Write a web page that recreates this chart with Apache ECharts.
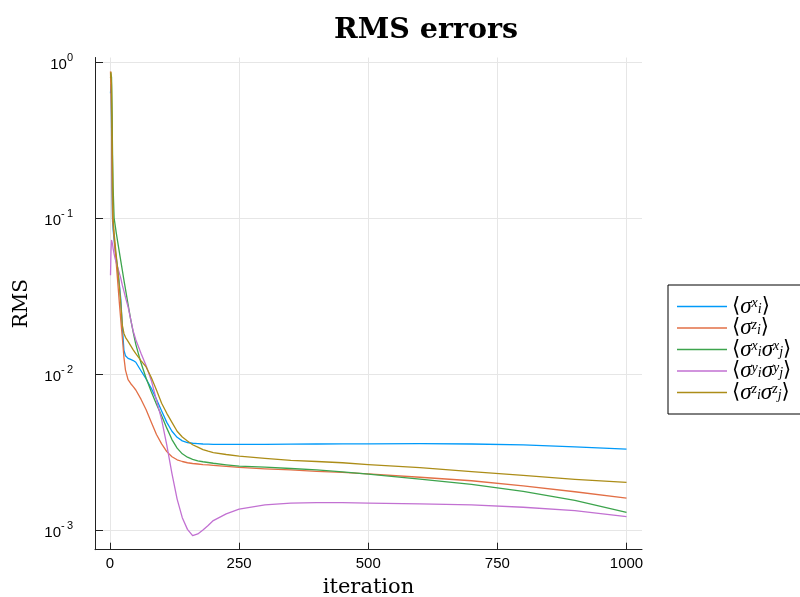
<!DOCTYPE html>
<html>
<head>
<meta charset="utf-8">
<script src="https://cdn.jsdelivr.net/npm/echarts@6/dist/echarts.min.js"></script>
<style>
  html, body { margin: 0; padding: 0; background: #ffffff; }
  #chart { width: 800px; height: 597px; }
</style>
</head>
<body>
<div id="chart"></div>
<script>
// Iteration numbers at which the RMS errors are sampled
const iterations = [1, 2, 3, 4, 5, 6, 8, 10, 12, 15, 18, 21, 24, 27, 30, 35, 40, 45, 50,
  60, 70, 80, 90, 100, 110, 120, 130, 140, 150, 160, 170, 180, 190, 200, 225, 250,
  300, 350, 400, 450, 500, 600, 700, 800, 900, 1000];

// <sigma_i^x>
const rmsSx = [0.63, 0.72, 0.40, 0.15, 0.095, 0.085, 0.072, 0.063, 0.056, 0.047, 0.038, 0.030, 0.020, 0.0142, 0.0131, 0.0126, 0.0124, 0.0122, 0.0119,
  0.0105, 0.0093, 0.0081, 0.0069, 0.0058, 0.0049, 0.0043, 0.00393, 0.00373, 0.00364, 0.0036, 0.00358, 0.00356, 0.00355, 0.00354, 0.00354, 0.00354,
  0.00354, 0.00355, 0.00356, 0.00357, 0.00357, 0.00358, 0.00356, 0.00351, 0.00341, 0.0033];

// <sigma_i^z>
const rmsSz = [0.87, 0.86, 0.45, 0.16, 0.10, 0.09, 0.075, 0.062, 0.052, 0.039, 0.029, 0.022, 0.017, 0.0128, 0.0106, 0.0092, 0.0087, 0.0083, 0.0079,
  0.0069, 0.0059, 0.0049, 0.0041, 0.00357, 0.00318, 0.00295, 0.00282, 0.00275, 0.0027, 0.00267, 0.00265, 0.00263, 0.00262, 0.0026, 0.00256, 0.00252,
  0.00247, 0.00243, 0.00238, 0.00234, 0.00229, 0.00218, 0.00207, 0.00192, 0.00176, 0.0016];

// <sigma_i^x sigma_j^x>
const rmsSxSx = [0.85, 0.87, 0.80, 0.50, 0.25, 0.16, 0.10, 0.09, 0.081, 0.07, 0.061, 0.053, 0.046, 0.04, 0.035, 0.028, 0.0225, 0.0185, 0.0155,
  0.0118, 0.0094, 0.0077, 0.0064, 0.0054, 0.0045, 0.0038, 0.00335, 0.00308, 0.00293, 0.00284, 0.00278, 0.00274, 0.00271, 0.00268, 0.00262, 0.00257,
  0.00253, 0.00248, 0.00243, 0.00236, 0.00228, 0.00212, 0.00196, 0.00177, 0.00155, 0.0013];

// <sigma_i^y sigma_j^y>
const rmsSySy = [0.043, 0.062, 0.072, 0.073, 0.068, 0.064, 0.059, 0.055, 0.052, 0.048, 0.0445, 0.041, 0.037, 0.034, 0.031, 0.027, 0.0225, 0.0188, 0.0166,
  0.0136, 0.0113, 0.0091, 0.0068, 0.0051, 0.0035, 0.0023, 0.00158, 0.0012, 0.00101, 0.00092, 0.000944, 0.0010, 0.00107, 0.00115, 0.00127, 0.00136,
  0.00145, 0.00149, 0.0015, 0.0015, 0.00149, 0.00147, 0.00145, 0.0014, 0.00133, 0.00122];

// <sigma_i^z sigma_j^z>
const rmsSzSz = [0.79, 0.86, 0.70, 0.40, 0.20, 0.10, 0.08, 0.068, 0.058, 0.047, 0.037, 0.028, 0.0205, 0.0182, 0.0172, 0.0162, 0.0152, 0.0143, 0.0135,
  0.0122, 0.0111, 0.0095, 0.0079, 0.0065, 0.0056, 0.0049, 0.0043, 0.00395, 0.00372, 0.00352, 0.0034, 0.00328, 0.0032, 0.00314, 0.00305, 0.00298,
  0.00288, 0.0028, 0.00275, 0.0027, 0.00263, 0.00251, 0.00237, 0.00224, 0.00211, 0.00202];

// Legend entries: operator factors as [superscript, subscript]
const seriesNames = ['σ^x_i', 'σ^z_i', 'σ^x_i σ^x_j', 'σ^y_i σ^y_j', 'σ^z_i σ^z_j'];
const seriesFactors = [
  [['x', 'i']],
  [['z', 'i']],
  [['x', 'i'], ['x', 'j']],
  [['y', 'i'], ['y', 'j']],
  [['z', 'i'], ['z', 'j']]
];
const seriesValues = [rmsSx, rmsSz, rmsSxSx, rmsSySy, rmsSzSz];
const seriesColors = ['#009af9', '#e26f46', '#3da44d', '#c271d2', '#ac8d18'];

const xTicks = [0, 250, 500, 750, 1000];
const yTicks = [0.001, 0.01, 0.1, 1];

const chart = echarts.init(document.getElementById('chart'), null, { renderer: 'canvas' });

const serifFont = "'Liberation Serif', 'DejaVu Serif', serif";
const mathFont = "'DejaVu Serif', 'DejaVu Sans', serif";

function legendText(name) {
  const idx = seriesNames.indexOf(name);
  let s = '{br|⟨}';
  seriesFactors[idx].forEach(function (f) {
    s += '{sg|σ}{sup|' + f[0] + '}{sub|' + f[1] + '}';
  });
  return s + '{br|⟩}';
}

const series = seriesNames.map(function (name, k) {
  return {
    name: name,
    type: 'line',
    data: iterations.map(function (it, i) { return [it, seriesValues[k][i]]; }),
    showSymbol: false,
    symbol: 'none',
    smooth: false,
    lineStyle: { color: seriesColors[k], width: 1.3, join: 'round' },
    itemStyle: { color: seriesColors[k] },
    emphasis: { disabled: true },
    animation: false
  };
});

const option = {
  backgroundColor: '#ffffff',
  animation: false,
  title: {
    text: 'RMS errors',
    left: 421,
    top: 11,
    textAlign: 'center',
    textStyle: {
      fontFamily: "'DejaVu Serif', serif",
      fontWeight: 'bold',
      fontSize: 28.5,
      color: '#000000'
    }
  },
  grid: {
    left: 95,
    right: 158,
    top: 57.5,
    bottom: 47.3,
    containLabel: false,
    outerBoundsMode: 'none'
  },
  legend: {
    orient: 'vertical',
    left: 668,
    top: 285,
    padding: [10, 14, 10, 9],
    itemGap: -1.5,
    itemWidth: 50,
    itemHeight: 1.6,
    icon: 'rect',
    borderColor: '#000000',
    borderWidth: 1,
    backgroundColor: '#ffffff',
    data: seriesNames,
    formatter: legendText,
    textStyle: {
      rich: {
        br: { fontFamily: mathFont, fontSize: 21, lineHeight: 19.5, color: '#000' },
        sg: { fontFamily: serifFont, fontStyle: 'italic', fontSize: 23, lineHeight: 19.5, color: '#000' },
        sup: { fontFamily: serifFont, fontStyle: 'italic', fontSize: 14, lineHeight: 19.5, verticalAlign: 'top', color: '#000' },
        sub: { fontFamily: serifFont, fontStyle: 'italic', fontSize: 14, lineHeight: 19.5, verticalAlign: 'bottom', color: '#000' }
      }
    }
  },
  xAxis: {
    type: 'value',
    min: -29,
    max: 1030,
    name: 'iteration',
    nameLocation: 'middle',
    nameGap: 27,
    nameTextStyle: { fontFamily: "'DejaVu Serif', serif", fontSize: 21, color: '#000' },
    axisLine: { show: true, onZero: false, lineStyle: { color: '#222', width: 1 } },
    axisTick: { show: true, inside: true, length: 7, customValues: xTicks, lineStyle: { color: '#222', width: 1 } },
    axisLabel: {
      customValues: xTicks,
      margin: 7,
      formatter: function (v) { return String(v); },
      fontFamily: "'Liberation Sans', Arial, sans-serif",
      fontSize: 15,
      color: '#000'
    },
    splitLine: { show: true, customValues: xTicks, lineStyle: { color: '#e6e6e6', width: 1 } }
  },
  yAxis: {
    type: 'log',
    logBase: 10,
    min: Math.pow(10, -3.126),
    max: Math.pow(10, 0.029),
    name: 'RMS',
    nameLocation: 'middle',
    nameGap: 63,
    nameTextStyle: { fontFamily: "'DejaVu Serif', serif", fontSize: 20, color: '#000' },
    axisLine: { show: true, onZero: false, lineStyle: { color: '#222', width: 1 } },
    axisTick: { show: true, inside: true, length: 8, customValues: yTicks, lineStyle: { color: '#222', width: 1 } },
    axisLabel: {
      customValues: yTicks,
      margin: 22,
      formatter: function (v) {
        const e = Math.round(Math.log10(v));
        const sup = e < 0 ? '-\u2009' + (-e) : String(e);
        return '{b|10}{s|' + sup + '}';
      },
      rich: {
        b: { fontFamily: "'Liberation Sans', Arial, sans-serif", fontSize: 15, lineHeight: 20, verticalAlign: 'bottom', color: '#000' },
        s: { fontFamily: "'Liberation Sans', Arial, sans-serif", fontSize: 11, lineHeight: 20, verticalAlign: 'top', color: '#000' }
      }
    },
    splitLine: { show: true, customValues: yTicks, lineStyle: { color: '#e6e6e6', width: 1 } }
  },
  series: series
};

chart.setOption(option);
</script>
</body>
</html>
